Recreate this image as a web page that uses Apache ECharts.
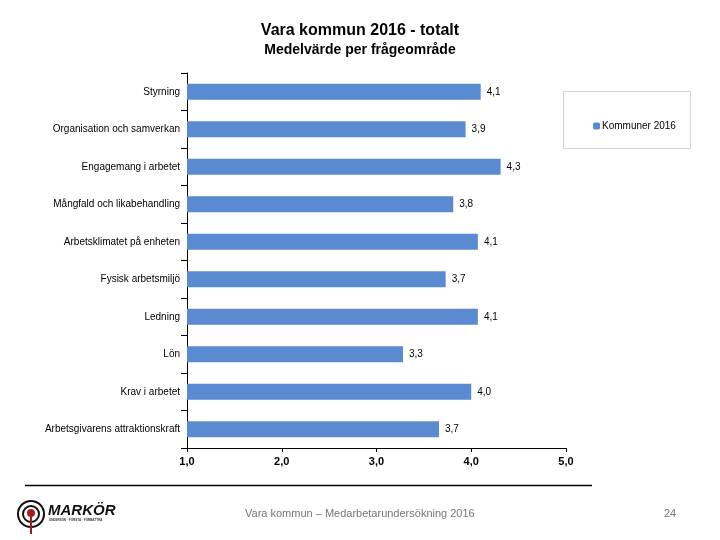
<!DOCTYPE html>
<html>
<head>
<meta charset="utf-8">
<script src="https://cdn.jsdelivr.net/npm/echarts@6/dist/echarts.min.js"></script>
<style>
  html, body { margin: 0; padding: 0; background: #fff; }
  #chart { width: 720px; height: 540px; }
</style>
</head>
<body>
<div id="chart"></div>
<script>
const categories = [
  'Styrning',
  'Organisation och samverkan',
  'Engagemang i arbetet',
  'Mångfald och likabehandling',
  'Arbetsklimatet på enheten',
  'Fysisk arbetsmiljö',
  'Ledning',
  'Lön',
  'Krav i arbetet',
  'Arbetsgivarens attraktionskraft'
]
const kommunValues = [4.10, 3.94, 4.31, 3.81, 4.07, 3.73, 4.07, 3.28, 4.00, 3.66]
const xTicks = [1, 2, 3, 4, 5]
const seriesName = 'Kommuner 2016'

const chart = echarts.init(document.getElementById('chart'))
const font = '"Liberation Sans", Arial, sans-serif'
const comma = (v, d) => v.toFixed(d).replace('.', ',')

chart.setOption({
  animation: false,
  textStyle: { fontFamily: font },
  title: {
    text: 'Vara kommun 2016 - totalt',
    subtext: 'Medelvärde per frågeområde',
    left: 'center',
    top: 18,
    itemGap: 4,
    textStyle: { fontSize: 16, fontWeight: 'bold', color: '#000', fontFamily: font },
    subtextStyle: { fontSize: 14, fontWeight: 'bold', color: '#000', fontFamily: font },
  },
  legend: {
    left: 588,
    top: 116,
    itemWidth: 7,
    itemHeight: 7,
    itemGap: 3,
    textStyle: { fontSize: 10, color: '#000', padding: [0, 0, 0, -3] },
    data: [seriesName],
  },
  grid: {
    left: 187,
    right: 154,
    top: 73,
    bottom: 92,
  },
  xAxis: {
    type: 'value',
    min: xTicks[0],
    max: xTicks[xTicks.length - 1],
    interval: 1,
    splitLine: { show: false },
    axisLine: { show: true, lineStyle: { color: '#000', width: 1 } },
    axisTick: { show: true, length: 4, lineStyle: { color: '#000' } },
    axisLabel: {
      color: '#000',
      fontSize: 11,
      fontWeight: 'bold',
      margin: 8,
      formatter: v => comma(v, 1),
    },
  },
  yAxis: {
    type: 'category',
    data: categories,
    inverse: true,
    axisLine: { show: true, lineStyle: { color: '#000', width: 1 } },
    axisTick: { show: true, length: 6, lineStyle: { color: '#000' } },
    axisLabel: { color: '#000', fontSize: 10, margin: 7 },
  },
  series: [{
    name: seriesName,
    type: 'bar',
    data: kommunValues,
    barWidth: 16,
    itemStyle: { color: '#5a8ad2' },
    label: {
      show: true,
      position: 'right',
      distance: 6,
      color: '#000',
      fontSize: 10,
      formatter: p => comma(p.value, 1),
    },
  }],
  graphic: [
    {
      type: 'rect',
      shape: { x: 563.5, y: 91.5, width: 127, height: 57 },
      style: { fill: 'none', stroke: '#d4d4d4', lineWidth: 1 },
    },
    {
      type: 'line',
      shape: { x1: 25, y1: 485.5, x2: 592, y2: 485.5 },
      style: { stroke: '#000', lineWidth: 1.5 },
    },
    // logo
    { type: 'circle', shape: { cx: 31, cy: 514, r: 13 }, style: { fill: 'none', stroke: '#111', lineWidth: 2 } },
    { type: 'circle', shape: { cx: 31, cy: 514, r: 8 }, style: { fill: 'none', stroke: '#111', lineWidth: 2 } },
    { type: 'line', shape: { x1: 31, y1: 514, x2: 31, y2: 534 }, style: { stroke: '#a51d1d', lineWidth: 2 } },
    { type: 'circle', shape: { cx: 31, cy: 513, r: 4 }, style: { fill: '#a51d1d' } },
    {
      type: 'text', left: 48, top: 503,
      style: { text: 'MARKÖR', font: 'italic bold 15px ' + font, fill: '#111' },
    },
    {
      type: 'text', left: 49, top: 519,
      style: { text: 'UNDERSÖK · FÖRSTÅ · FÖRBÄTTRA', font: 'bold 3px ' + font, fill: '#333' },
    },
    {
      type: 'text', left: 245, top: 508,
      style: { text: 'Vara kommun – Medarbetarundersökning 2016', font: '11px ' + font, fill: '#777' },
    },
    {
      type: 'text', left: 664, top: 508,
      style: { text: '24', font: '11px ' + font, fill: '#777' },
    },
  ],
})
</script>
</body>
</html>
